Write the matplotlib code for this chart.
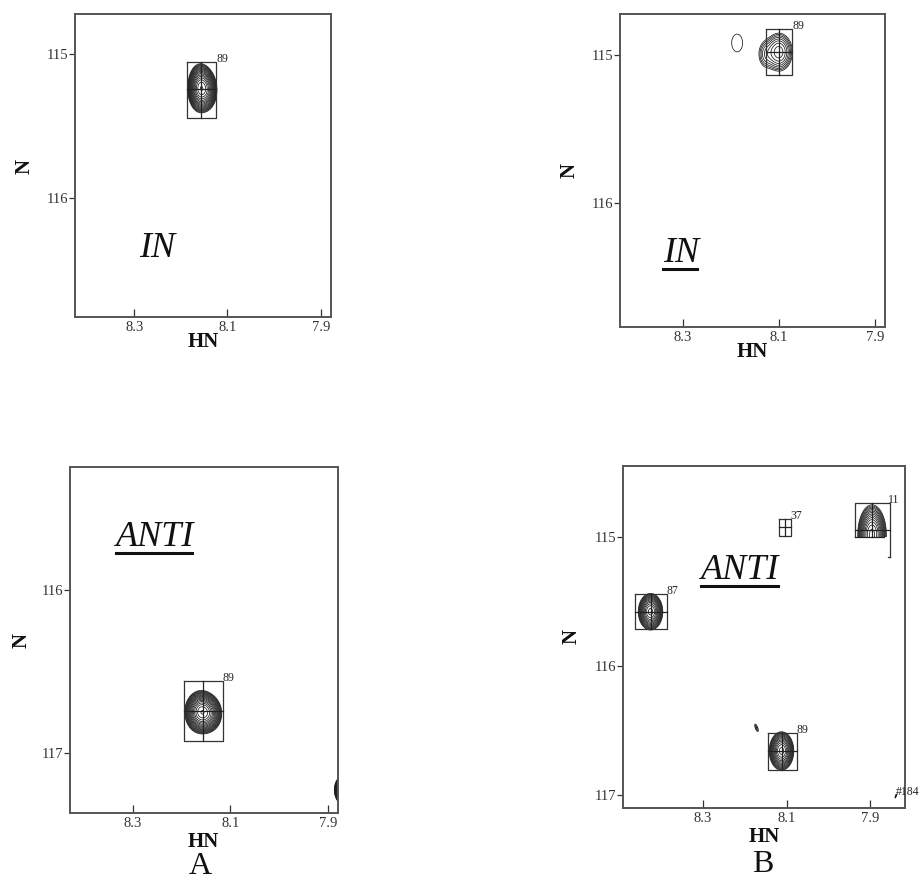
import numpy as np
import matplotlib
matplotlib.use("Agg")
import matplotlib.pyplot as plt
from matplotlib.patches import Rectangle
from matplotlib.lines import Line2D

plt.rcParams["font.family"] = ["Liberation Serif", "DejaVu Serif"]

FIG_W, FIG_H = 921, 882

# ---------------- spectrum data (1H / 15N chemical shifts, ppm) ----------------
# Panel A, IN  (main peak plus its upfield shoulder)
a_in_hn = [8.158, 8.143]
a_in_n = [115.235, 115.250]
a_in_sig_hn = [0.0112, 0.0100]
a_in_sig_n = [0.069, 0.062]
a_in_amp = [20.0, 7.0]
a_in_rho = [0.0, 0.0]
a_in_box_hn = [(8.186, 8.124)]
a_in_box_n = [(115.053, 115.440)]
a_in_cross = [(8.156, 115.240)]
a_in_labels = ["89"]

# Panel B, IN
b_in_hn = [8.100, 8.128, 8.187]
b_in_n = [114.980, 114.995, 114.918]
b_in_sig_hn = [0.014, 0.010, 0.018]
b_in_sig_n = [0.064, 0.058, 0.095]
b_in_amp = [7.5, 2.2, 1.22]
b_in_rho = [0.0, 0.0, 0.0]
b_in_box_hn = [(8.126, 8.072)]
b_in_box_n = [(114.824, 115.137)]
b_in_cross = [(8.100, 114.980)]
b_in_labels = ["89"]

# Panel A, ANTI
a_anti_hn = [8.160, 8.142, 7.868]
a_anti_n = [116.750, 116.760, 117.230]
a_anti_sig_hn = [0.0135, 0.0120, 0.0077]
a_anti_sig_n = [0.054, 0.050, 0.036]
a_anti_amp = [20.0, 7.0, 21.0]
a_anti_rho = [0.0, 0.0, 0.0]
a_anti_box_hn = [(8.195, 8.115)]
a_anti_box_n = [(116.561, 116.929)]
a_anti_cross = [(8.156, 116.746)]
a_anti_labels = ["89"]

# Panel B, ANTI
b_anti_hn = [8.426, 8.112, 8.172, 7.838]
b_anti_n = [115.578, 116.660, 116.480, 117.010]
b_anti_sig_hn = [0.0120, 0.0120, 0.0045, 0.0025]
b_anti_sig_n = [0.058, 0.061, 0.030, 0.020]
b_anti_amp = [20.0, 20.0, 1.6, 1.4]
b_anti_rho = [0.0, 0.0, -0.7, 0.8]
b_anti_box_hn = [(8.463, 8.387), (8.118, 8.090), (8.144, 8.076)]
b_anti_box_n = [(115.443, 115.712), (114.856, 114.990), (116.522, 116.807)]
b_anti_cross = [(8.426, 115.578), (8.104, 114.920), (8.112, 116.660)]
b_anti_labels = ["87", "37", "89"]
# residue 11 sits on the edge of the recorded 15N window
res11_hn, res11_n = 7.895, 114.980
res11_sig_hn, res11_sig_n, res11_amp = 0.0140, 0.095, 20.0
res11_edge_n = 115.0
res11_box_hn = (7.935, 7.853)
res11_box_top, res11_err_bottom = 114.736, 115.155
res11_cross_n = 114.946
res184_hn, res184_n = 7.838, 117.010

# axis windows
a_in_xlim, a_in_ylim = (8.427, 7.878), (116.826, 114.720)
b_in_xlim, b_in_ylim = (8.431, 7.879), (116.840, 114.722)
a_anti_xlim, a_anti_ylim = (8.428, 7.8795), (117.372, 115.240)
b_anti_xlim, b_anti_ylim = (8.492, 7.816), (117.103, 114.446)

x_ticks = [8.3, 8.1, 7.9]
a_in_yticks = [115, 116]
b_in_yticks = [115, 116]
a_anti_yticks = [116, 117]
b_anti_yticks = [115, 116, 117]

CONTOUR_COLOR = "#1a1a1a"
CONTOUR_LW = 0.55


def field(X, Y, hn, n, shn, sn, amp, rho):
    Z = np.zeros_like(X)
    for x0, y0, sx, sy, a, r in zip(hn, n, shn, sn, amp, rho):
        u = (X - x0) / sx
        v = (Y - y0) / sy
        Z += a * np.exp(-(u * u - 2 * r * u * v + v * v) / (2 * (1 - r * r)))
    return Z


def px_rect(l, t, r, b):
    return [l / FIG_W, 1 - b / FIG_H, (r - l) / FIG_W, (b - t) / FIG_H]


def setup_axes(rect, xlim, ylim, yticks):
    ax = fig.add_axes(px_rect(*rect))
    ax.set_xlim(*xlim)
    ax.set_ylim(*ylim)
    ax.set_xticks(x_ticks)
    ax.set_xticklabels([f"{t:.1f}" for t in x_ticks])
    ax.set_yticks(yticks)
    ax.set_yticklabels([str(t) for t in yticks])
    ax.tick_params(axis="x", direction="in", length=6, width=0.9, pad=3,
                   labelsize=10.5, colors="#333333", top=False)
    ax.tick_params(axis="y", direction="out", length=4, width=0.9, pad=1,
                   labelsize=10.5, colors="#333333", right=False)
    for s in ax.spines.values():
        s.set_color("#555555")
        s.set_linewidth(1.4)
    return ax


def draw_peaks(ax, xlim, ylim, hn, n, shn, sn, amp, rho, factor):
    xs = np.linspace(min(xlim) - 0.05, max(xlim) + 0.05, 800)
    ys = np.linspace(min(ylim) - 0.1, max(ylim) + 0.1, 800)
    X, Y = np.meshgrid(xs, ys)
    Z = field(X, Y, hn, n, shn, sn, amp, rho)
    levels = 1.0 * factor ** np.arange(40)
    ax.contour(X, Y, Z, levels=levels, colors=CONTOUR_COLOR, linewidths=CONTOUR_LW)


def draw_boxes(ax, box_hn, box_n, cross, labels):
    for (x0, x1), (y0, y1), (cx, cy), lab in zip(box_hn, box_n, cross, labels):
        ax.plot([x0, x1, x1, x0, x0], [y0, y0, y1, y1, y0], color="#333333", lw=0.9)
        ax.plot([cx, cx], [y0, y1], color="#222222", lw=0.9)
        ax.plot([x0, x1], [cy, cy], color="#222222", lw=0.9)
        ax.text(x1, y0, lab, fontsize=8.5, ha="left", va="baseline", color="#222222")


fig = plt.figure(figsize=(FIG_W / 100, FIG_H / 100), dpi=100)

ax_a_in = setup_axes((75, 14, 331, 317), a_in_xlim, a_in_ylim, a_in_yticks)
ax_b_in = setup_axes((620, 14, 885, 327), b_in_xlim, b_in_ylim, b_in_yticks)
ax_a_anti = setup_axes((70, 467, 338, 813), a_anti_xlim, a_anti_ylim, a_anti_yticks)
ax_b_anti = setup_axes((623, 466, 905, 808), b_anti_xlim, b_anti_ylim, b_anti_yticks)

draw_peaks(ax_a_in, a_in_xlim, a_in_ylim, a_in_hn, a_in_n, a_in_sig_hn, a_in_sig_n,
           a_in_amp, a_in_rho, 1.2)
draw_boxes(ax_a_in, a_in_box_hn, a_in_box_n, a_in_cross, a_in_labels)

draw_peaks(ax_b_in, b_in_xlim, b_in_ylim, b_in_hn, b_in_n, b_in_sig_hn, b_in_sig_n,
           b_in_amp, b_in_rho, 1.3)
draw_boxes(ax_b_in, b_in_box_hn, b_in_box_n, b_in_cross, b_in_labels)

draw_peaks(ax_a_anti, a_anti_xlim, a_anti_ylim, a_anti_hn, a_anti_n, a_anti_sig_hn,
           a_anti_sig_n, a_anti_amp, a_anti_rho, 1.2)
draw_boxes(ax_a_anti, a_anti_box_hn, a_anti_box_n, a_anti_cross, a_anti_labels)

draw_peaks(ax_b_anti, b_anti_xlim, b_anti_ylim, b_anti_hn, b_anti_n, b_anti_sig_hn,
           b_anti_sig_n, b_anti_amp, b_anti_rho, 1.25)
draw_boxes(ax_b_anti, b_anti_box_hn, b_anti_box_n, b_anti_cross, b_anti_labels)

# residue 11: contours cut at the edge of the 15N window
xs = np.linspace(7.80, 8.0, 500)
ys = np.linspace(114.5, 115.3, 500)
X, Y = np.meshgrid(xs, ys)
Z11 = field(X, Y, [res11_hn], [res11_n], [res11_sig_hn], [res11_sig_n], [res11_amp], [0.0])
cs11 = ax_b_anti.contour(X, Y, Z11, levels=1.25 ** np.arange(40), colors=CONTOUR_COLOR,
                         linewidths=CONTOUR_LW)
clip = Rectangle((7.80, 114.5), 0.2, res11_edge_n - 114.5, transform=ax_b_anti.transData)
cs11.set_clip_path(clip)
bx0, bx1 = res11_box_hn
ax_b_anti.plot([bx0, bx0, bx1, bx1], [res11_edge_n, res11_box_top, res11_box_top,
               res11_err_bottom], color="#333333", lw=0.9)
ax_b_anti.plot([bx1 + 0.004, bx1], [res11_err_bottom, res11_err_bottom], color="#333333", lw=0.9)
ax_b_anti.plot([bx0, 7.866], [res11_edge_n, res11_edge_n], color="#222222", lw=0.9)
ax_b_anti.plot([res11_hn, res11_hn], [res11_box_top, res11_edge_n], color="#222222", lw=0.9)
ax_b_anti.plot([bx0, bx1], [res11_cross_n, res11_cross_n], color="#222222", lw=0.9)
ax_b_anti.text(bx1 + 0.003, res11_box_top, "11", fontsize=8.5, ha="left",
               va="baseline", color="#222222")
ax_b_anti.text(res184_hn + 0.001, res184_n - 0.005, "#184", fontsize=8.5, ha="left",
               va="baseline", color="#222222", clip_on=False)

# condition labels
cond = [
    (ax_a_in, 8.290, 116.347, "IN", False),
    (ax_b_in, 8.341, 116.340, "IN", True),
    (ax_a_anti, 8.334, 115.673, "ANTI", True),
    (ax_b_anti, 8.304, 115.254, "ANTI", True),
]
cond_texts = []
for ax, x, y, s, ul in cond:
    t = ax.text(x, y, s, fontsize=26, style="italic", ha="left", va="center",
                color="#111111")
    cond_texts.append((t, ul))


def fig_text(x, y, s, **kw):
    fig.text(x / FIG_W, 1 - y / FIG_H, s, ha="center", va="center", **kw)


for x, y in [(203, 342), (752, 352), (203, 842), (764, 837)]:
    fig_text(x, y, "HN", fontsize=15, fontweight="bold", color="#111111")
for x, y in [(25, 167), (570, 170), (22, 640), (572, 637)]:
    fig_text(x, y, "N", fontsize=15, fontweight="bold", rotation=90, color="#111111")
fig_text(200, 866, "A", fontsize=23, color="#111111")
fig_text(763, 865, "B", fontsize=23, color="#111111")

# underline the condition labels
fig.canvas.draw()
renderer = fig.canvas.get_renderer()
for t, ul in cond_texts:
    if not ul:
        continue
    bb = t.get_window_extent(renderer)
    y = bb.y0 + 1
    fig.add_artist(Line2D([bb.x0 / FIG_W, (bb.x1 - 2) / FIG_W], [y / FIG_H, y / FIG_H],
                          transform=fig.transFigure, color="#111111", lw=2.2))

fig.savefig("out.png", dpi=100)
